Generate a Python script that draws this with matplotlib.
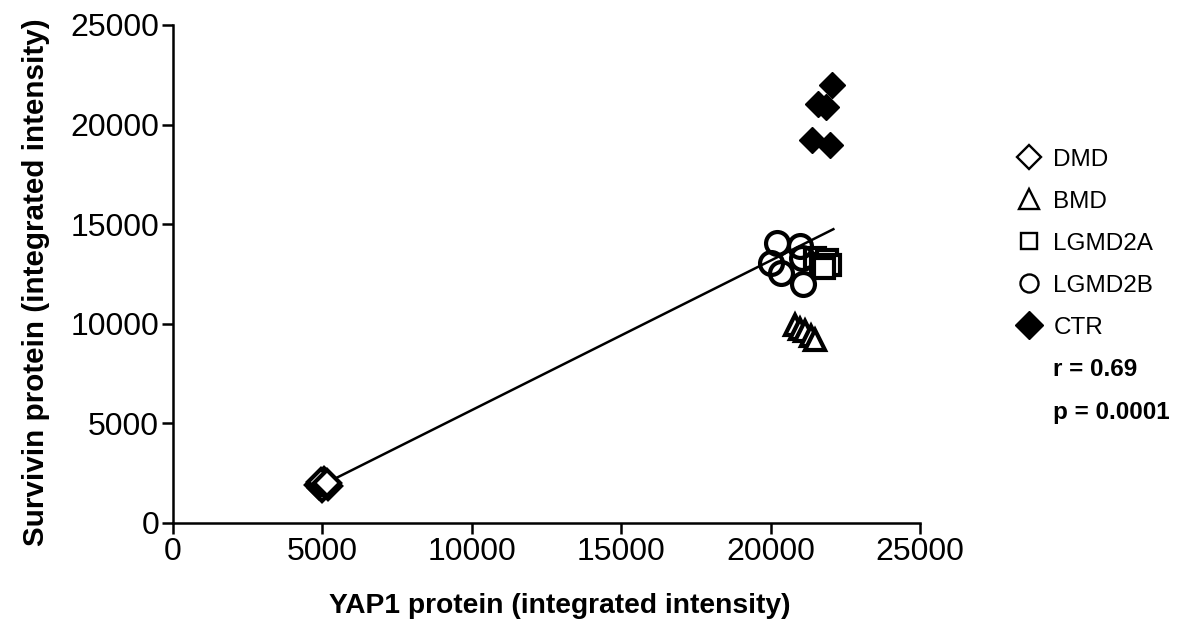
import matplotlib
matplotlib.use("Agg")
import matplotlib.pyplot as plt
from matplotlib.lines import Line2D
import numpy as np

plt.rcParams['font.family'] = ['Liberation Sans', 'DejaVu Sans']

groups = ["DMD", "BMD", "LGMD2A", "LGMD2B", "CTR"]

dmd_x = [4900, 5050, 5200, 5000, 5100, 4950, 5150]
dmd_y = [1900, 2100, 1850, 1750, 1950, 2050, 2000]

bmd_x = [20800, 21000, 21150, 21350, 21500]
bmd_y = [9950, 9750, 9650, 9400, 9200]

lgmd2a_x = [21500, 21700, 21900, 22000, 21800]
lgmd2a_y = [13300, 13000, 13200, 12950, 12800]

lgmd2b_x = [20200, 21000, 20000, 20350, 21100, 21050]
lgmd2b_y = [14050, 13900, 13050, 12550, 12000, 13300]

ctr_x = [22050, 21600, 21850, 21400, 22000]
ctr_y = [22000, 21050, 20900, 19250, 19000]

r_text = "r = 0.69"
p_text = "p = 0.0001"

# regression line ends
fit_x = [4850, 22100]
fit_y = [1800, 14750]

fig = plt.figure(figsize=(11.89, 6.27), dpi=100)
ax = fig.add_axes([173/1189, 1-523/627, (920-173)/1189, (523-25)/627])

ax.plot(fit_x, fit_y, color='black', lw=1.8, zorder=1)

mew = 3
ax.plot(dmd_x, dmd_y, 'D', ms=13, mfc='white', mec='black', mew=mew, ls='none', zorder=3)
ax.plot(bmd_x, bmd_y, '^', ms=15, mfc='white', mec='black', mew=mew, ls='none', zorder=3)
ax.plot(lgmd2a_x, lgmd2a_y, 's', ms=14, mfc='white', mec='black', mew=mew, ls='none', zorder=3)
ax.plot(lgmd2b_x, lgmd2b_y, 'o', ms=16.5, mfc='none', mec='black', mew=mew, ls='none', zorder=4)
ax.plot(ctr_x, ctr_y, 'D', ms=13.5, mfc='black', mec='black', mew=1, ls='none', zorder=3)

ax.set_xlim(0, 25000)
ax.set_ylim(0, 25000)
ax.set_xticks(np.arange(0, 25001, 5000))
ax.set_yticks(np.arange(0, 25001, 5000))
ax.tick_params(labelsize=23, width=1.8, length=8, direction='out', pad=2)
for s in ['top', 'right']:
    ax.spines[s].set_visible(False)
for s in ['left', 'bottom']:
    ax.spines[s].set_linewidth(1.8)

ax.set_xlabel("YAP1 protein (integrated intensity)", fontsize=20.3, fontweight='bold')
ax.set_ylabel("Survivin protein (integrated intensity)", fontsize=21.3, fontweight='bold')
ax.xaxis.set_label_coords((560-173)/747, -(593-523)/498)
ax.yaxis.set_label_coords(-(173-50)/747, (523-282)/498)

handles = [
    Line2D([], [], marker='D', ls='none', ms=12, mfc='white', mec='black', mew=1.7),
    Line2D([], [], marker='^', ls='none', ms=14, mfc='white', mec='black', mew=1.7),
    Line2D([], [], marker='s', ls='none', ms=12, mfc='white', mec='black', mew=1.7),
    Line2D([], [], marker='o', ls='none', ms=13, mfc='white', mec='black', mew=1.7),
    Line2D([], [], marker='D', ls='none', ms=14, mfc='black', mec='black'),
    Line2D([], [], ls='none'),
    Line2D([], [], ls='none'),
]
labels = groups + [r_text, p_text]
leg = fig.legend(handles, labels, loc='upper left', bbox_to_anchor=(1006/1189, 1-139/627),
                 frameon=False, fontsize=17.5, labelspacing=0.82, handletextpad=0.45,
                 handlelength=1.1, borderaxespad=0)
for t in leg.get_texts()[-2:]:
    t.set_fontweight('bold')

fig.savefig("out.png", dpi=100)
